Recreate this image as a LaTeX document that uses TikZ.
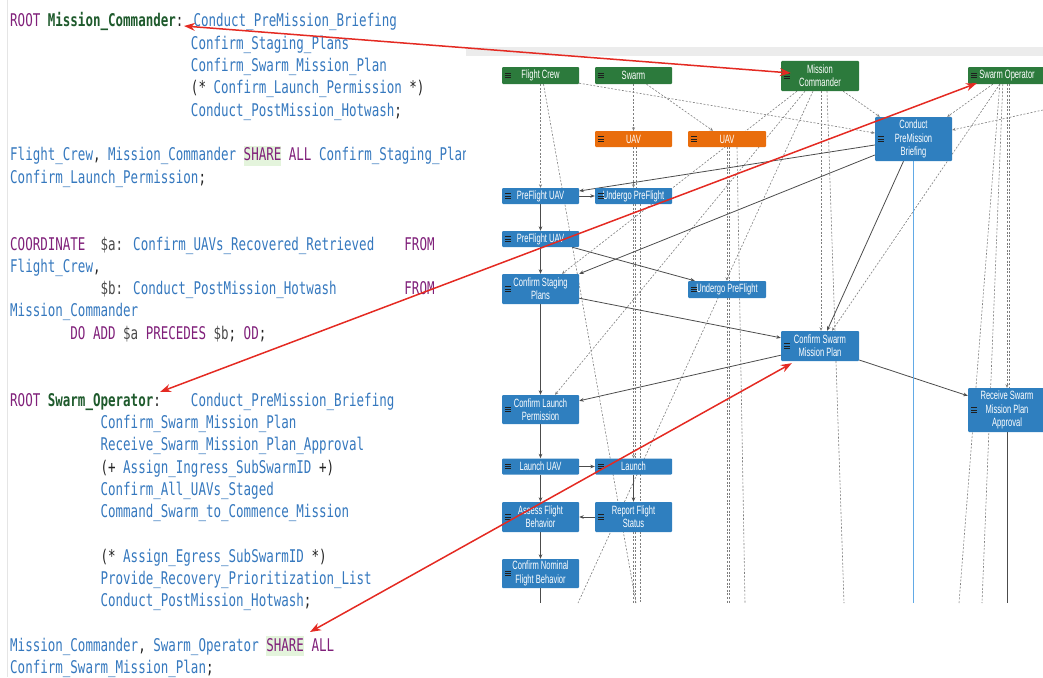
\documentclass[tikz,border=0pt]{standalone}
\usepackage{fontspec}
\usetikzlibrary{arrows.meta,backgrounds}

\newfontfamily\codefont{DejaVu Sans Mono}[FakeStretch=0.715]
\newfontfamily\boxfont{Liberation Sans}[FakeStretch=0.63]

% listing colours
\definecolor{kwpurple}{HTML}{80207A}
\definecolor{idblue}{HTML}{3578BE}
\definecolor{rootgreen}{HTML}{1E5A2C}
\definecolor{punct}{HTML}{222222}
\definecolor{vargray}{HTML}{4A4A4A}
\definecolor{hlgreen}{HTML}{E4F4DC}
% graph colours
\definecolor{nodegreen}{HTML}{2C7A3C}
\definecolor{nodeorange}{HTML}{E96D0C}
\definecolor{nodeblue}{HTML}{2F7FBF}
\definecolor{linkgray}{HTML}{4C4C4C}
\definecolor{dashgray}{HTML}{7E7E7E}
\definecolor{laneblue}{HTML}{62AAE6}
\definecolor{bandgray}{HTML}{ECECEC}
\definecolor{calloutred}{HTML}{E42A22}

% syntax-colouring helpers for the listing
\newcommand\kw[1]{\textcolor{kwpurple}{#1}}
\newcommand\idn[1]{\textcolor{idblue}{#1}}
\newcommand\rt[1]{\textcolor{rootgreen}{\bfseries #1}}
\newcommand\pc[1]{\textcolor{punct}{#1}}
\newcommand\vr[1]{\textcolor{vargray}{#1}}
\newcommand\hlt[1]{{\setlength\fboxsep{0pt}\colorbox{hlgreen}{\rule[-5pt]{0pt}{20pt}#1}}}
\newlength\cw
\newcommand\gap[1]{\hspace*{#1\cw}}

% hamburger icon at the left end of a box
\newcommand\menuicon[1]{%
  \foreach \dy in {-2.2,0,2.2}{\draw[iconline] ([xshift=3.5pt,yshift=\dy pt]#1.west) -- ++(5.5,0);}}

\tikzset{
  codeline/.style={anchor=base west, inner sep=0pt, font=\codefont\fontsize{17.5}{20}\selectfont},
  box/.style={rectangle, rounded corners=1pt, inner sep=0pt, text=white, align=center,
              font=\boxfont\fontsize{12}{13.3}\selectfont, minimum width=77pt},
  actor/.style={box, fill=nodegreen},
  inst/.style={box, fill=nodeorange},
  act/.style={box, fill=nodeblue},
  iconline/.style={line width=0.9pt, draw=black!88},
  link/.style={draw=linkgray, line width=0.8pt, -{Stealth[length=4.5pt,width=3.6pt]}},
  plain/.style={draw=linkgray, line width=0.8pt},
  share/.style={draw=dashgray, line width=0.6pt, dash pattern=on 2pt off 1.6pt,
                -{Stealth[length=3.5pt,width=3pt]}},
  shareplain/.style={draw=dashgray, line width=0.6pt, dash pattern=on 2pt off 1.6pt},
  lane/.style={draw=laneblue, line width=0.9pt},
  callout/.style={draw=calloutred, line width=1.5pt,
                  {Stealth[length=11pt,width=8pt]}-{Stealth[length=11pt,width=8pt]}},
}

\begin{document}
\settowidth\cw{\codefont\fontsize{17.5}{20}\selectfont 0}
\begin{tikzpicture}[x=1pt,y=-1pt]
\useasboundingbox (0,0) rectangle (1043,677);

% ---------------- listing ----------------
\draw[black!10, line width=0.8pt] (7,0) -- (7,677);
\begin{scope}
\clip (0,0) rectangle (465,677);
\node[codeline] (code0)  at (10,27)    {\kw{ROOT} \rt{Mission\_Commander}\pc{:} \idn{Conduct\_PreMission\_Briefing}};
\node[codeline] (code1)  at (10,49.3)  {\gap{24}\idn{Confirm\_Staging\_Plans}};
\node[codeline] (code2)  at (10,71.6)  {\gap{24}\idn{Confirm\_Swarm\_Mission\_Plan}};
\node[codeline] (code3)  at (10,93.9)  {\gap{24}\pc{(*} \idn{Confirm\_Launch\_Permission} \pc{*)}};
\node[codeline] (code4)  at (10,116.2) {\gap{24}\idn{Conduct\_PostMission\_Hotwash}\pc{;}};
\node[codeline] (code6)  at (10,160.8) {\idn{Flight\_Crew}\pc{,} \idn{Mission\_Commander} \hlt{\kw{SHARE}} \kw{ALL} \idn{Confirm\_Staging\_Plans}\pc{,}};
\node[codeline] (code7)  at (10,183.1) {\idn{Confirm\_Launch\_Permission}\pc{;}};
\node[codeline] (code10) at (10,250)   {\kw{COORDINATE}\gap{2}\vr{\$a:} \idn{Confirm\_UAVs\_Recovered\_Retrieved}\gap{4}\kw{FROM}};
\node[codeline] (code11) at (10,272.3) {\idn{Flight\_Crew}\pc{,}};
\node[codeline] (code12) at (10,294.6) {\gap{12}\vr{\$b:} \idn{Conduct\_PostMission\_Hotwash}\gap{9}\kw{FROM}};
\node[codeline] (code13) at (10,316.9) {\idn{Mission\_Commander}};
\node[codeline] (code14) at (10,339.2) {\gap{8}\kw{DO ADD} \vr{\$a} \kw{PRECEDES} \vr{\$b}\pc{;} \kw{OD}\pc{;}};
\node[codeline] (code17) at (10,406.1) {\kw{ROOT} \rt{Swarm\_Operator}\pc{:}\gap{4}\idn{Conduct\_PreMission\_Briefing}};
\node[codeline] (code18) at (10,428.4) {\gap{12}\idn{Confirm\_Swarm\_Mission\_Plan}};
\node[codeline] (code19) at (10,450.7) {\gap{12}\idn{Receive\_Swarm\_Mission\_Plan\_Approval}};
\node[codeline] (code20) at (10,473)   {\gap{12}\pc{(+} \idn{Assign\_Ingress\_SubSwarmID} \pc{+)}};
\node[codeline] (code21) at (10,495.3) {\gap{12}\idn{Confirm\_All\_UAVs\_Staged}};
\node[codeline] (code22) at (10,517.6) {\gap{12}\idn{Command\_Swarm\_to\_Commence\_Mission}};
\node[codeline] (code24) at (10,562.2) {\gap{12}\pc{(*} \idn{Assign\_Egress\_SubSwarmID} \pc{*)}};
\node[codeline] (code25) at (10,584.5) {\gap{12}\idn{Provide\_Recovery\_Prioritization\_List}};
\node[codeline] (code26) at (10,606.8) {\gap{12}\idn{Conduct\_PostMission\_Hotwash}\pc{;}};
\node[codeline] (code28) at (10,651.4) {\idn{Mission\_Commander}\pc{,} \idn{Swarm\_Operator} \hlt{\kw{SHARE}} \kw{ALL}};
\node[codeline] (code29) at (10,673.7) {\idn{Confirm\_Swarm\_Mission\_Plan}\pc{;}};
\end{scope}

% ---------------- event graph: boxes ----------------
\begin{scope}
\clip (466,47) rectangle (1043,603);
\node[actor, minimum height=17pt] (fc) at (540.5,75.5) {Flight Crew};
\node[actor, minimum height=17pt] (sw) at (633.5,75.5) {Swarm};
\node[actor, minimum width=78pt, minimum height=30pt] (mc) at (820,76) {Mission\\Commander};
\node[actor, minimum width=78pt, minimum height=17pt] (so) at (1007,75.5) {Swarm Operator};
\node[inst, minimum height=16pt] (uav1) at (633.5,139) {UAV};
\node[inst, minimum width=78pt, minimum height=16pt] (uav2) at (727,139) {UAV};
\node[act, minimum height=44pt] (cpb) at (913.5,139) {Conduct\\PreMission\\Briefing};
\node[act, minimum height=16pt] (pf1) at (540.5,196) {PreFlight UAV};
\node[act, minimum height=16pt] (up1) at (633.5,196) {Undergo PreFlight};
\node[act, minimum height=16pt] (pf2) at (540.5,239) {PreFlight UAV};
\node[act, minimum height=30pt] (csp) at (540.5,289) {Confirm Staging\\Plans};
\node[act, minimum width=78pt, minimum height=17pt] (up2) at (727,289.5) {Undergo PreFlight};
\node[act, minimum width=78pt, minimum height=30pt] (csmp) at (820,346) {Confirm Swarm\\Mission Plan};
\node[act, minimum width=78pt, minimum height=44pt] (rsmpa) at (1007,410) {Receive Swarm\\Mission Plan\\Approval};
\node[act, minimum height=29pt] (clp) at (540.5,409.5) {Confirm Launch\\Permission};
\node[act, minimum height=16pt] (luav) at (540.5,466.5) {Launch UAV};
\node[act, minimum height=16pt] (lau) at (633.5,466.5) {Launch};
\node[act, minimum height=30pt] (afb) at (540.5,517) {Assess Flight\\Behavior};
\node[act, minimum height=30pt] (rfs) at (633.5,517) {Report Flight\\Status};
\node[act, minimum height=29pt] (cnfb) at (540.5,573.5) {Confirm Nominal\\Flight Behavior};
\foreach \n in {fc,sw,mc,so,uav1,uav2,cpb,pf1,up1,pf2,csp,up2,csmp,rsmpa,clp,luav,lau,afb,rfs,cnfb}{
  \menuicon{\n}
}
\end{scope}

% free ends of lines leaving the visible area
\coordinate (bot) at (0,603);
\coordinate (fcEnd) at (636,603);
\coordinate (swEnd) at (640,603);
\coordinate (uavEnd) at (745,603);
\coordinate (mcEndA) at (578,603);
\coordinate (mcEndB) at (844,603);
\coordinate (soEndA) at (959,603);
\coordinate (soEndB) at (982,603);
\coordinate (offRight) at (1043,110);

% ---------------- event graph: links, behind the boxes ----------------
\begin{scope}[on background layer]
\clip (466,47) rectangle (1043,603);
\fill[bandgray] (466,47) rectangle (1043,56);
% shared-event (dashed) links
\draw[share] (fc.south) -- (pf1.north);
\draw[shareplain] ([xshift=3pt]fc.south) -- (fcEnd);
\draw[share] ([yshift=1pt]fc.south east) -- ([yshift=6pt]cpb.west);
\draw[share] (sw.south) -- (uav1.north);
\draw[share] ([xshift=13pt]sw.south) -- ([xshift=-14pt]uav2.north);
\draw[share] (uav1.south) -- (up1.north);
\draw[shareplain] ([xshift=2.5pt]uav1.south) -- ([xshift=2.5pt]up1.north);
\draw[share] (up1.south) -- (lau.north);
\draw[shareplain] ([xshift=2pt]up1.south) -- ([xshift=2pt]lau.north);
\draw[shareplain] ([xshift=6.5pt]up1.south) -- (swEnd);
\draw[shareplain] (rfs.south) -- (rfs.south |- bot);
\draw[shareplain] ([xshift=2pt]rfs.south) -- ([xshift=2pt]rfs.south |- bot);
\draw[share] (uav2.south) -- (up2.north);
\draw[shareplain] ([xshift=2pt]uav2.south) -- ([xshift=2pt]up2.north);
\draw[shareplain] (up2.south) -- (up2.south |- bot);
\draw[shareplain] ([xshift=2pt]up2.south) -- ([xshift=2pt]up2.south |- bot);
\draw[shareplain] ([xshift=10pt]uav2.south) -- (uavEnd);
\draw[share] ([xshift=-23pt]mc.south) -- ([xshift=21.5pt]csp.north);
\draw[share] ([xshift=-15pt]mc.south) -- ([xshift=14.5pt]clp.north);
\draw[shareplain] ([xshift=-7pt]mc.south) -- (mcEndA);
\draw[share] ([xshift=1pt]mc.south) -- ([xshift=1pt]csmp.north);
\draw[shareplain] ([xshift=7pt]mc.south) -- (mcEndB);
\draw[share] ([xshift=-16pt]mc.south east) -- ([xshift=5pt]cpb.north west);
\draw[share] ([xshift=25pt]so.south west) -- ([xshift=-5pt]cpb.north east);
\draw[share] ([xshift=32pt]so.south west) -- ([xshift=12pt]csmp.north);
\draw[shareplain] ([xshift=32pt]so.south west) -- (soEndA);
\draw[shareplain] ([xshift=35pt]so.south west) -- (soEndB);
\draw[share] (so.south) -- (rsmpa.north);
\draw[shareplain] ([xshift=2pt]so.south) -- ([xshift=2pt]rsmpa.north);
\draw[share] (offRight) -- ([yshift=9pt]cpb.east);
% precedence (solid) links
\draw[link] (pf1) -- (pf2);
\draw[link] (pf1) -- (up1);
\draw[link] (pf2) -- (csp);
\draw[link] ([xshift=-7pt]pf2.south east) -- ([xshift=7pt]up2.north west);
\draw[link] (csp) -- (clp);
\draw[link] ([yshift=6pt]csp.south east) -- ([yshift=-7pt]csmp.north west);
\draw[link] ([yshift=6pt]csmp.south west) -- ([yshift=-6pt]clp.north east);
\draw[link] ([yshift=-6pt]cpb.west) -- ([yshift=5pt]pf1.east);
\draw[link] ([yshift=-16pt]cpb.west) -- (csp.north east);
\draw[link] ([xshift=-10pt]cpb.south) -- ([xshift=7pt]csmp.north);
\draw[link] ([yshift=-14pt]csmp.east) -- ([yshift=-8pt]rsmpa.north west);
\draw[link] (clp) -- (luav);
\draw[link] (luav) -- (lau);
\draw[link] (luav) -- (afb);
\draw[link] (lau) -- (rfs);
\draw[link] (rfs) -- (afb);
\draw[link] (afb) -- (cnfb);
\draw[plain] (cnfb.south) -- (cnfb.south |- bot);
\draw[plain] (rsmpa.south) -- (rsmpa.south |- bot);
\draw[lane] (cpb.south) -- (cpb.south |- bot);
\end{scope}

% ---------------- red call-outs ----------------
\coordinate (mcColon) at (184,26);
\coordinate (soColon) at (160,392);
\coordinate (shareAll) at (310,632);
\draw[callout] (mcColon) -- ([xshift=10pt,yshift=3pt]mc.west);
\draw[callout] (soColon) -- ([xshift=9pt,yshift=1pt]so.south west);
\draw[callout] (shareAll) -- ([xshift=11pt,yshift=-2pt]csmp.south west);
\end{tikzpicture}
\end{document}
